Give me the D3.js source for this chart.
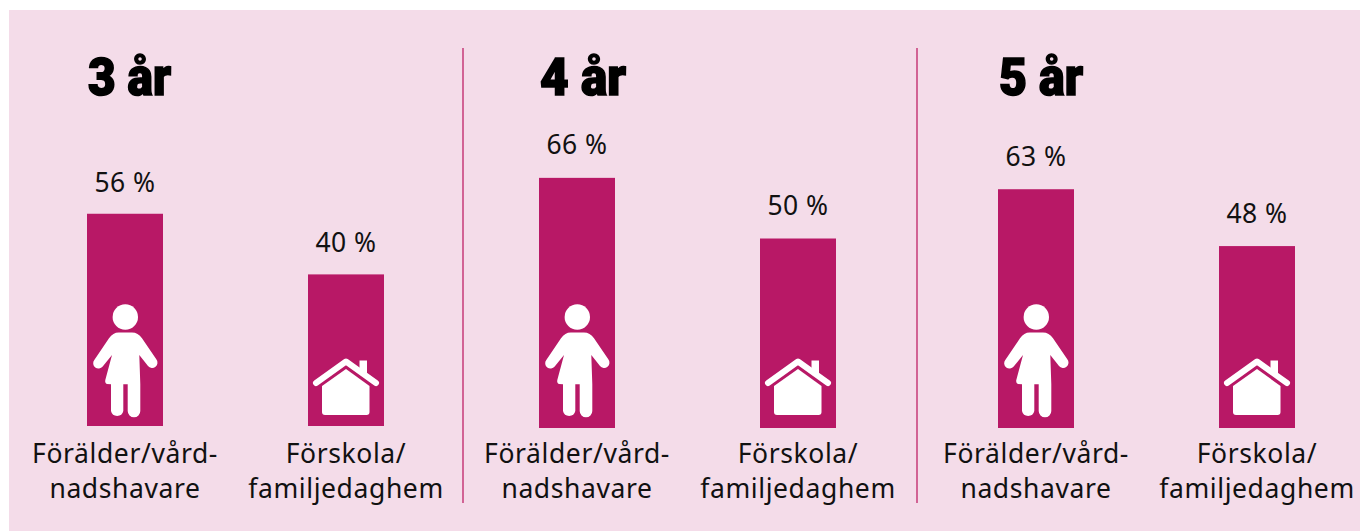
<!DOCTYPE html>
<html><head><meta charset="utf-8">
<script src="https://cdn.jsdelivr.net/npm/d3@7"></script>
<style>html,body{margin:0;padding:0;background:#fff}svg{display:block}</style></head>
<body><svg id="c" width="1360" height="531"></svg>
<script>
const ages = ["3 år","4 år","5 år"];
const categories = ["parent","preschool"];
const labelLines = {parent:["Förälder/vård-","nadshavare"],preschool:["Förskola/","familjedaghem"]};
const parentValues = [56,66,63];
const preschoolValues = [40,50,48];
const panelLeft = [87,539,998];
const panelBase = [426,428,428];
const labelGap = [22,24,23];
const titleWidth = [83,86,84];
const dividers = [463,917];

const svg = d3.select("#c");
const PINK="#b81866", BG="#f4dce9";
const FONT="'Noto Sans',sans-serif", TITLEFONT="Roboto,sans-serif";
svg.append("rect").attr("x",9).attr("y",10).attr("width",1351).attr("height",521).attr("fill",BG);

const x = d3.scaleBand().domain(categories).range([0,297]).paddingInner(145/221).paddingOuter(0);
const h = d3.scaleLinear().domain([0,100]).range([0,379]);

svg.selectAll("line.d").data(dividers).join("line").attr("class","d")
  .attr("x1",d=>d).attr("x2",d=>d).attr("y1",48).attr("y2",503)
  .attr("stroke","#c9457f").attr("stroke-width",1.6);

function child(g){
  g.append("circle").attr("cx",0.3).attr("cy",-109).attr("r",12.7).attr("fill","#fff");
  g.append("path").attr("fill","#fff")
   .attr("d","M-6.3,-93.5 H7 Q13,-93.5 17,-87.7 L31.3,-66.7 A5.2,5.2 0 0 1 23,-60 L14.3,-71 L15.3,-41.7 V-15 A6.3,6.3 0 0 1 2.7,-15 V-41.7 H-1.7 V-15 A6.3,6.3 0 0 1 -14,-15 V-41.7 L-18,-42 Q-20.3,-43 -19.7,-46 L-13,-71 L-22.3,-59.5 A5.2,5.2 0 0 1 -30.7,-66 L-16,-87.7 Q-12,-93.5 -6.3,-93.5 Z");
}
function house(g){
  g.append("path").attr("fill","#fff").attr("d","M13.5,-65.5 H21 V-52 H13.5 Z");
  g.append("path").attr("fill","none").attr("stroke","#fff").attr("stroke-width",6).attr("stroke-linecap","round").attr("stroke-linejoin","round")
   .attr("d","M-30,-43 L0,-64.5 L30,-43");
  g.append("path").attr("fill","#fff")
   .attr("d","M0,-57 L23.5,-40 V-14 Q23.5,-11 20.5,-11 H-21 Q-24,-11 -24,-14 V-40 Z");
}

ages.forEach((age,i)=>{
  const g = svg.append("g").attr("transform",`translate(${panelLeft[i]},0)`);
  const base = panelBase[i];
  const rows = [{k:"parent",v:parentValues[i]},{k:"preschool",v:preschoolValues[i]}];
  g.append("text").attr("x",1).attr("y",94.5).attr("font-family",TITLEFONT).attr("font-weight",900)
   .attr("font-size",51).attr("fill","#000").attr("stroke","#000").attr("stroke-width",1.6).attr("textLength",titleWidth[i]).attr("lengthAdjust","spacingAndGlyphs").text(age);
  const b = g.selectAll("g.b").data(rows).join("g").attr("class","b")
    .attr("transform",d=>`translate(${x(d.k)},0)`);
  b.append("rect").attr("x",0).attr("width",x.bandwidth())
    .attr("y",d=>base-h(d.v)).attr("height",d=>h(d.v)).attr("fill",PINK);
  b.append("text").attr("x",x.bandwidth()/2).attr("y",d=>base-h(d.v)-labelGap[i])
    .attr("text-anchor","middle").attr("font-family",FONT).attr("font-size",26.5).attr("font-weight",400).attr("letter-spacing",0.5).attr("fill","#111")
    .text(d=>d.v+" %");
  b.each(function(d){
    const ic=d3.select(this).append("g").attr("transform",`translate(${x.bandwidth()/2},426)`);
    (d.k==="parent"?child:house)(ic);
    d3.select(this).selectAll("text.l").data(labelLines[d.k]).join("text").attr("class","l")
      .attr("x",x.bandwidth()/2).attr("y",(t,j)=>463+j*35)
      .attr("text-anchor","middle").attr("font-family",FONT).attr("font-size",26.5).attr("font-weight",400).attr("letter-spacing",0.6).attr("fill","#111").text(t=>t);
  });
});
</script></body></html>
